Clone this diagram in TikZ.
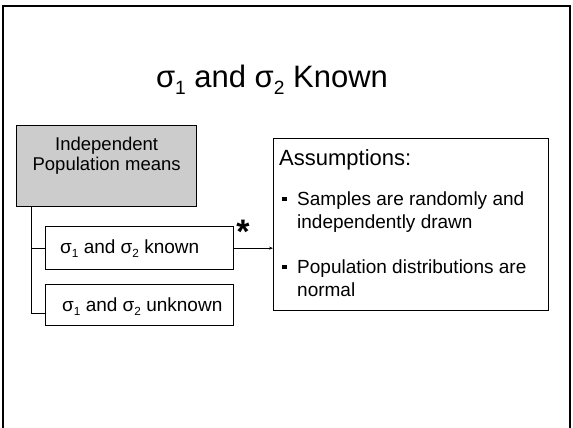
\documentclass[tikz,border=0pt]{standalone}
\usepackage{fontspec}
\setmainfont{Liberation Sans}
\usetikzlibrary{arrows.meta,calc}
\newcommand{\sgsub}[1]{\raisebox{-0.22em}{\fontsize{0.62em}{0.62em}\selectfont #1}}
\begin{document}
\begin{tikzpicture}[x=1pt,y=-1pt,
  box/.style={draw=black, line width=1.3pt, inner sep=0pt, anchor=north west},
  txt/.style={inner sep=0pt, anchor=base west, font=\fontsize{18.5}{21}\selectfont},
  btxt/.style={inner sep=0pt, anchor=base west, font=\fontsize{19}{23}\selectfont},
  conn/.style={line width=1pt}]
\useasboundingbox (0,0) rectangle (573,428);
% frame
\draw[line width=1.6pt] (3,428) -- (3,6) -- (570,6) -- (570,428);
% title
\node[inner sep=0pt, anchor=base, font=\fontsize{31}{36}\selectfont] (title) at (272,88)
  {σ\sgsub{1} and σ\sgsub{2} Known};
% independent box
\node[box, fill=black!20, minimum width=180pt, minimum height=81pt] (ind) at (16,125) {};
\node[txt, anchor=base] (indtxt1) at ($(ind.north)+(0,25)$) {Independent};
\node[txt, anchor=base] (indtxt2) at ($(ind.north)+(0,45)$) {Population means};
% known / unknown
\node[box, fill=white, minimum width=188pt, minimum height=43pt] (known) at (45,226) {};
\node[txt, font=\fontsize{19}{21}\selectfont] (knowntxt) at (60,253) {σ\sgsub{1} and σ\sgsub{2} known};
\node[box, fill=white, minimum width=188pt, minimum height=41pt] (unknown) at (45,284) {};
\node[txt, font=\fontsize{19}{21}\selectfont] (unknowntxt) at (62,311) {σ\sgsub{1} and σ\sgsub{2} unknown};
% tree
\coordinate (trunk) at ($(ind.south west)+(15,0)$);
\coordinate (ukin) at ($(unknown.south west)+(0,-13)$);
\draw[conn] (trunk) |- (known.west);
\draw[conn] (trunk) |- (ukin);
% assumptions
\node[box, fill=white, minimum width=275pt, minimum height=172pt] (assump) at (273,138) {};
\node[inner sep=0pt, anchor=base west, font=\fontsize{22}{26}\selectfont] (ahead) at (279,165) {Assumptions:};
\node[btxt] (b1) at (282,205) {\raisebox{4pt}{\rule{4.5pt}{4.5pt}}};
\node[btxt] (t1a) at (297,205) {Samples are randomly and};
\node[btxt] (t1b) at (297,228) {independently drawn};
\node[btxt] (b2) at (282,273) {\raisebox{4pt}{\rule{4.5pt}{4.5pt}}};
\node[btxt] (t2a) at (297,273) {Population distributions are};
\node[btxt] (t2b) at (297,296) {normal};
% arrow and star
\draw[conn, -{Stealth[length=4pt,width=3pt]}] (known.east) -- (known.east -| assump.west);
\node[inner sep=0pt, font=\fontsize{34}{34}\bfseries\selectfont] (star) at (243,232) {*};
\end{tikzpicture}
\end{document}
